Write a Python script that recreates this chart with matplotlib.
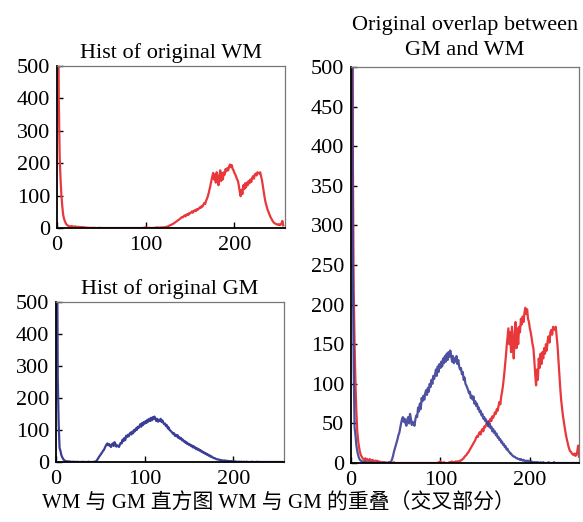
import numpy as np
import matplotlib
matplotlib.use("Agg")
import matplotlib.pyplot as plt

plt.rcParams['font.family'] = ['Liberation Serif', 'Noto Sans CJK SC', 'DejaVu Sans']

# intensity bins 0..255
bins = list(range(256))

wm_counts = [
    2500, 900, 400, 220, 150, 100, 65, 40, 28, 20,      # 0-9
    14, 10, 8, 6, 5, 4, 6, 3, 5, 4,                     # 10-19
    3, 5, 3, 2, 4, 3, 2, 3, 2, 3,                       # 20-29
    2, 1, 2, 1, 1, 0, 1, 0, 0, 1,                       # 30-39
    0, 0, 1, 0, 0, 0, 0, 0, 1, 0,                       # 40-49
    0, 0, 0, 0, 0, 0, 0, 0, 0, 0,                       # 50-59
    0, 0, 0, 0, 0, 0, 0, 0, 0, 0,                       # 60-69
    0, 0, 0, 0, 0, 0, 0, 0, 0, 0,                       # 70-79
    0, 0, 0, 0, 0, 0, 0, 0, 0, 0,                       # 80-89
    0, 0, 0, 0, 0, 0, 0, 0, 1, 0,                       # 90-99
    2, 1, 0, 0, 1, 0, 0, 0, 0, 0,                       # 100-109
    1, 0, 1, 2, 0, 1, 1, 2, 1, 2,                       # 110-119
    2, 2, 3, 3, 4, 5, 6, 8, 9, 10,                      # 120-129
    12, 13, 15, 17, 19, 21, 23, 25, 27, 29,             # 130-139
    32, 34, 33, 37, 39, 36, 41, 43, 40, 46,             # 140-149
    45, 48, 51, 47, 53, 52, 56, 53, 59, 57,             # 150-159
    60, 64, 62, 68, 66, 72, 77, 74, 84, 90,             # 160-169
    98, 108, 120, 132, 146, 158, 170, 150, 165, 140,    # 170-179
    172, 155, 132, 160, 178, 145, 170, 150, 172, 165,   # 180-189
    182, 175, 185, 178, 190, 196, 188, 194, 182, 178,   # 190-199
    170, 165, 158, 150, 145, 130, 112, 98, 118, 105,    # 200-209
    132, 120, 138, 125, 140, 132, 145, 138, 150, 142,   # 210-219
    155, 160, 152, 165, 168, 162, 172, 170, 168, 172,   # 220-229
    160, 148, 130, 112, 95, 80, 70, 60, 52, 45,         # 230-239
    38, 32, 27, 22, 18, 15, 14, 12, 11, 10,             # 240-249
    12, 9, 10, 14, 22, 8,                               # 250-255
]

gm_counts = [
    3000, 800, 260, 120, 45, 35, 22, 15, 10, 6,         # 0-9
    4, 3, 2, 2, 1, 2, 1, 1, 0, 1,                       # 10-19
    0, 1, 0, 0, 1, 0, 0, 0, 0, 0,                       # 20-29
    1, 0, 0, 0, 0, 0, 0, 1, 0, 0,                       # 30-39
    0, 0, 0, 1, 0, 2, 5, 9, 14, 18,                     # 40-49
    22, 26, 30, 35, 38, 44, 50, 55, 58, 52,             # 50-59
    56, 50, 47, 55, 58, 50, 62, 56, 48, 52,             # 60-69
    50, 47, 55, 60, 58, 70, 65, 75, 68, 82,             # 70-79
    78, 85, 80, 88, 92, 86, 95, 90, 100, 96,            # 80-89
    105, 100, 110, 106, 112, 118, 110, 122, 115, 125,   # 90-99
    120, 128, 122, 132, 126, 135, 128, 138, 130, 140,   # 100-109
    134, 142, 136, 128, 135, 126, 132, 128, 135, 125,   # 110-119
    130, 122, 118, 120, 112, 115, 105, 108, 100, 98,    # 120-129
    95, 92, 88, 90, 82, 85, 80, 84, 75, 78,             # 130-139
    72, 75, 68, 70, 64, 66, 60, 62, 56, 58,             # 140-149
    53, 55, 50, 52, 46, 50, 44, 46, 40, 43,             # 150-159
    38, 40, 35, 37, 32, 33, 29, 30, 26, 27,             # 160-169
    23, 24, 20, 21, 17, 18, 15, 14, 12, 12,             # 170-179
    10, 9, 8, 8, 7, 6, 6, 5, 5, 4,                      # 180-189
    5, 4, 3, 4, 3, 2, 3, 2, 3, 2,                       # 190-199
    2, 1, 2, 1, 1, 0, 1, 1, 0, 1,                       # 200-209
    0, 0, 1, 0, 0, 1, 0, 0, 0, 0,                       # 210-219
    0, 1, 0, 0, 0, 0, 0, 1, 0, 0,                       # 220-229
    0, 0, 0, 0, 0, 0, 0, 0, 0, 0,                       # 230-239
    0, 0, 0, 0, 0, 0, 0, 0, 0, 0,                       # 240-249
    0, 0, 0, 0, 0, 0,                                   # 250-255
]

red = '#e8383c'
blue = '#3a3e96'

W, H = 583, 522
fig = plt.figure(figsize=(W / 100, H / 100), dpi=100)


def ax_px(l, t, r, b):
    return fig.add_axes([l / W, 1 - b / H, (r - l) / W, (b - t) / H])


def style(ax, yticks, xmax):
    ax.set_xlim(0, xmax)
    ax.set_ylim(0, 500)
    ax.set_xticks([0, 100, 200])
    ax.set_yticks(yticks)
    ax.tick_params(direction='in', length=4, width=1, labelsize=16)
    ax.tick_params(axis='x', pad=6)
    ax.tick_params(axis='y', pad=5)
    for s in ['left', 'bottom']:
        ax.spines[s].set_color('black')
        ax.spines[s].set_linewidth(1.3)
    for s in ['top', 'right']:
        ax.spines[s].set_color('#777777')
        ax.spines[s].set_linewidth(0.9)


ax1 = ax_px(57, 66, 285, 228)
ax1.plot(bins, wm_counts, color=red, lw=1.6)
style(ax1, [0, 100, 200, 300, 400, 500], 257)
ax1.set_title('Hist of original WM', fontsize=16, pad=6)

ax2 = ax_px(56, 302, 284, 462)
ax2.plot(bins, gm_counts, color=blue, lw=1.6)
style(ax2, [0, 100, 200, 300, 400, 500], 257)
ax2.set_title('Hist of original GM', fontsize=16, pad=6)

ax3 = ax_px(351, 67, 579, 463)
ax3.plot(bins, wm_counts, color=red, lw=1.6)
ax3.plot(bins, gm_counts, color=blue, lw=1.6, alpha=0.9)
style(ax3, list(range(0, 501, 50)), 255)
ax3.set_title('Original overlap between\nGM and WM', fontsize=16, pad=8.5, linespacing=1.45)

fig.text(278 / W, 1 - 504 / H, 'WM 与 GM 直方图 WM 与 GM 的重叠（交叉部分）',
         ha='center', va='center', fontsize=15)

fig.savefig('out.png', dpi=100)
